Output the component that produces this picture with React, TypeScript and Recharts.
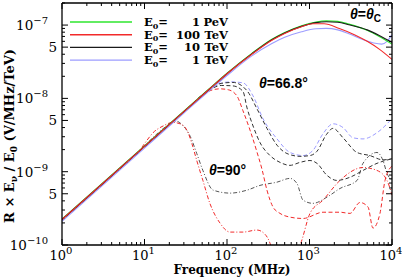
import { LineChart, Line, XAxis, YAxis, Legend } from 'recharts';

const energyValues = ['1', '100', '10', '1'];
const energyUnits = ['PeV', 'TeV', 'TeV', 'TeV'];
const energyNames = ['1 PeV', '100 TeV', '10 TeV', '1 TeV'];

// [frequency (MHz), R x E_nu / E_0 (V/MHz/TeV)]
// theta = theta_C (solid)
const cone1PeV = [[1, 2.25e-10], [10, 2.25e-9], [30, 6.7e-9], [60, 1.33e-8], [100, 2.2e-8], [200, 4.1e-8], [350, 6.4e-8], [500, 7.9e-8], [800, 9.8e-8], [1200, 1.1e-7], [1600, 1.14e-7], [2200, 1.12e-7], [3000, 1.03e-7], [5000, 8.5e-8], [7000, 7.0e-8], [10000, 5.5e-8]];
const cone100TeV = [[1, 2.22e-10], [10, 2.22e-9], [30, 6.6e-9], [60, 1.31e-8], [100, 2.17e-8], [200, 4.0e-8], [350, 6.2e-8], [500, 7.7e-8], [800, 9.5e-8], [1100, 1.04e-7], [1500, 1.04e-7], [2300, 9.0e-8], [3500, 7.4e-8], [5000, 6.0e-8], [7000, 4.7e-8], [10000, 3.4e-8]];
const cone10TeV = [[1, 2.22e-10], [10, 2.22e-9], [30, 6.6e-9], [60, 1.31e-8], [100, 2.17e-8], [200, 4.05e-8], [350, 6.3e-8], [500, 7.8e-8], [800, 9.6e-8], [1200, 1.08e-7], [1600, 1.11e-7], [2200, 1.09e-7], [3000, 1.01e-7], [5000, 8.6e-8], [7000, 7.2e-8], [8500, 6.4e-8], [10000, 5.8e-8]];
const cone1TeV = [[1, 2.1e-10], [10, 2.1e-9], [30, 6.3e-9], [60, 1.25e-8], [100, 2.05e-8], [200, 3.8e-8], [350, 5.6e-8], [500, 6.8e-8], [800, 8.1e-8], [1200, 8.9e-8], [1600, 9.0e-8], [2200, 8.6e-8], [3000, 7.6e-8], [4500, 6.3e-8], [6000, 5.7e-8], [7500, 5.5e-8], [8700, 6.0e-8], [10000, 7.4e-8]];

// theta = 66.8 deg (dashed)
const off100TeV = [[1, 2.2e-10], [10, 2.2e-9], [30, 6.6e-9], [47, 1.03e-8], [62, 1.27e-8], [82, 1.35e-8], [104, 1.31e-8], [132, 1.08e-8], [156, 6.8e-9], [190, 3.7e-9], [231, 1.85e-9], [266, 1.07e-9], [305, 5.6e-10], [361, 3.3e-10], [439, 2.7e-10], [580, 2.4e-10], [834, 2.3e-10], [1460, 2.8e-10], [2340, 2.8e-10], [3100, 2.7e-10], [4090, 3.8e-10], [5120, 3.3e-10], [5880, 1.7e-10], [7150, 2.7e-10], [8230, 7.6e-10], [10000, 1.2e-9]];
const off10TeVa = [[1, 2.2e-10], [10, 2.2e-9], [30, 6.6e-9], [60, 1.3e-8], [85, 1.6e-8], [118, 1.65e-8], [175, 1.27e-8], [231, 7.2e-9], [305, 3.9e-9], [404, 2.3e-9], [533, 1.77e-9], [767, 1.62e-9], [1014, 1.66e-9], [1233, 1.9e-9], [1600, 3.2e-9], [1930, 3.9e-9], [2550, 2.9e-9], [3765, 1.83e-9], [5400, 1.66e-9], [7780, 1.45e-9], [10000, 1.5e-9]];
const off10TeVb = [[1, 2.2e-10], [10, 2.2e-9], [30, 6.6e-9], [60, 1.28e-8], [85, 1.5e-8], [118, 1.48e-8], [156, 1.25e-8], [175, 7.4e-9], [207, 4.2e-9], [251, 2.5e-9], [332, 1.66e-9], [439, 1.34e-9], [580, 1.22e-9], [767, 1.34e-9], [1014, 1.42e-9], [1233, 1.3e-9], [1630, 8.9e-10], [2150, 7.6e-10], [3100, 8.4e-10], [4450, 1.04e-9], [6580, 1.3e-9], [10000, 1.5e-9]];
const off1TeV = [[1, 2.15e-10], [10, 2.15e-9], [30, 6.5e-9], [60, 1.3e-8], [80, 1.58e-8], [110, 1.68e-8], [156, 1.63e-8], [207, 1.08e-8], [273, 5.3e-9], [404, 2.8e-9], [580, 1.83e-9], [834, 1.66e-9], [1100, 1.95e-9], [1460, 3.3e-9], [1930, 4.5e-9], [2550, 4.0e-9], [3370, 2.9e-9], [4450, 2.8e-9], [6580, 3.4e-9], [10000, 5.3e-9]];

// theta = 90 deg (dash-dot)
const side100TeV = [[1, 2.2e-10], [5, 1.1e-9], [9, 2.05e-9], [10.5, 2.6e-9], [12.7, 3.4e-9], [16.8, 4.2e-9], [22, 4.7e-9], [27, 4.5e-9], [33, 3.6e-9], [37.6, 2.4e-9], [43, 1.42e-9], [51, 7.6e-10], [62, 3.7e-10], [82, 2.0e-10], [109, 1.5e-10], [156, 1.5e-10], [231, 1.6e-10], [289, 1.4e-10], [332, 1.06e-10], [370, 7e-11], [500, 4e-11], [705, 8.5e-11], [767, 1.0e-10], [1014, 2.7e-10], [1460, 4.1e-10], [2340, 7.6e-10], [4450, 1.14e-9], [6580, 1.04e-9], [8700, 7.6e-10], [10000, 4.8e-10]];
const side10TeV = [[1, 2.2e-10], [9, 2.0e-9], [13, 3.0e-9], [18, 4.1e-9], [24, 4.9e-9], [29, 4.3e-9], [36, 3.0e-9], [43, 1.77e-9], [51, 1.04e-9], [68, 5.6e-10], [109, 5.1e-10], [175, 5.6e-10], [251, 6.5e-10], [404, 7.2e-10], [580, 8.1e-10], [705, 6.9e-10], [834, 4.1e-10], [1100, 3.7e-10], [1630, 4.5e-10], [2340, 5.9e-10], [3770, 7.6e-10], [4450, 1.3e-9], [6580, 1.83e-9], [7780, 1.42e-9], [8700, 9.5e-10], [10000, 7.6e-10]];

const xDecades = [1, 10, 100, 1000];
const yDecades = [1e-10, 1e-9, 1e-8];
const mults = [1, 2, 3, 4, 5, 6, 7, 8, 9];
const xTicks = [...xDecades.flatMap(d => mults.map(m => m * d)), 10000];
const yTicks = [...yDecades.flatMap(d => mults.map(m => m * d)), 1e-7, 2e-7];

const GREEN = '#2ee62e';
const RED = '#f22a2a';
const BLACK = '#1a1a1a';
const BLUE = '#9c9cff';
const DASH = '4 2.5';
const DASHDOT = '4 2 1 2';
const TICKFONT = 'DejaVu Serif';

const pts = (arr: number[][]) => arr.map(([f, v]) => ({ f, v }));

const expOf = (v: number) => Math.round(Math.log10(v));
const isDecade = (v: number) => Math.abs(Math.log10(v) - expOf(v)) < 1e-6;
const isFive = (v: number) => {
    const e = Math.floor(Math.log10(v) + 1e-9);
    return Math.abs(v / Math.pow(10, e) - 5) < 1e-6;
};
const sup = (n: number) => (n < 0 ? '\u2212' + Math.abs(n) : String(n));

const BottomTick = ({ x, y, payload }: any) => {
    const major = isDecade(payload.value);
    return (
        <g>
            <line x1={x} x2={x} y1={y} y2={y - (major ? 6 : 3)} stroke="#000" strokeWidth={1} />
            {major && (
                <text x={x - 1} y={y + 15} textAnchor="middle" fontFamily={TICKFONT} fontSize={13} fill="#000">
                    10<tspan dy={-6} fontSize={10}>{sup(expOf(payload.value))}</tspan>
                </text>
            )}
        </g>
    );
};

const TopTick = ({ x, y, payload }: any) => {
    const major = isDecade(payload.value);
    return <line x1={x} x2={x} y1={y} y2={y + (major ? 6 : 3)} stroke="#000" strokeWidth={1} />;
};

const LeftTick = ({ x, y, payload }: any) => {
    const v = payload.value;
    const major = isDecade(v) || isFive(v);
    return (
        <g>
            <line x1={x} x2={x + (major ? 6 : 3)} y1={y} y2={y} stroke="#000" strokeWidth={1} />
            {isDecade(v) && (
                <text x={48} y={y + 5} textAnchor="end" fontFamily={TICKFONT} fontSize={13.5} fill="#000">
                    10<tspan dy={-6} fontSize={10}>{sup(expOf(v))}</tspan>
                </text>
            )}
            {isFive(v) && (
                <text x={57} y={y + 5} textAnchor="end" fontFamily={TICKFONT} fontSize={13.5} fill="#000">5</text>
            )}
        </g>
    );
};

const RightTick = ({ x, y, payload }: any) => {
    const v = payload.value;
    const major = isDecade(v) || isFive(v);
    return <line x1={x} x2={x - (major ? 6 : 3)} y1={y} y2={y} stroke="#000" strokeWidth={1} />;
};

const renderLegend = (props: any) => {
    const items = (props.payload || [])
        .filter((p: any) => energyNames.includes(p.value))
        .sort((a: any, b: any) => energyNames.indexOf(a.value) - energyNames.indexOf(b.value));
    return (
        <svg width={402} height={80}>
            {items.map((p: any, i: number) => {
                const k = energyNames.indexOf(p.value);
                const y = 22 + i * 12.7;
                return (
                    <g key={p.value} fontFamily={TICKFONT} fontWeight="bold" fontSize={11.5} fill="#000">
                        <line x1={70} x2={132} y1={y} y2={y} stroke={p.color} strokeWidth={1.4} />
                        <text x={144} y={y + 4}>
                            E<tspan dy={2.5} fontSize={8}>0</tspan><tspan dy={-2.5}>=</tspan>
                        </text>
                        <text x={200} y={y + 4} textAnchor="end">{energyValues[k]}</text>
                        <text x={228} y={y + 4} textAnchor="end">{energyUnits[k]}</text>
                    </g>
                );
            })}
        </svg>
    );
};

const lineProps = { dataKey: 'v', dot: false, activeDot: false, isAnimationActive: false, type: 'monotone' as const };

export default function App() {
    return (
        <div style={{ position: 'absolute', left: 0, top: 0, width: 402, height: 277, background: '#fff' }}>
            <LineChart width={402} height={277} margin={{ top: 2, right: 0, bottom: 0, left: 0 }}>
                <XAxis dataKey="f" type="number" scale="log" domain={[1, 10000]} allowDataOverflow
                    ticks={xTicks} interval={0} tickSize={0} tickMargin={0} tickLine={false}
                    height={32} axisLine={{ stroke: '#000', strokeWidth: 1.3 }} tick={<BottomTick />} />
                <XAxis xAxisId="top" orientation="top" dataKey="f" type="number" scale="log" domain={[1, 10000]} allowDataOverflow
                    ticks={xTicks} interval={0} tickSize={0} tickMargin={0} tickLine={false}
                    height={1} axisLine={{ stroke: '#000', strokeWidth: 1.3 }} tick={<TopTick />} />
                <YAxis type="number" scale="log" domain={[1e-10, 2e-7]} allowDataOverflow
                    ticks={yTicks} interval={0} tickSize={0} tickMargin={0} tickLine={false}
                    width={62} axisLine={{ stroke: '#000', strokeWidth: 1.3 }} tick={<LeftTick />} />
                <YAxis yAxisId="right" orientation="right" type="number" scale="log" domain={[1e-10, 2e-7]} allowDataOverflow
                    ticks={yTicks} interval={0} tickSize={0} tickMargin={0} tickLine={false}
                    width={10} axisLine={{ stroke: '#000', strokeWidth: 1.3 }} tick={<RightTick />} />

                <Line {...lineProps} data={pts(side10TeV)} stroke="#555" strokeWidth={1} strokeDasharray={DASHDOT} legendType="none" />
                <Line {...lineProps} data={pts(side100TeV)} stroke={RED} strokeWidth={1} strokeDasharray={DASHDOT} legendType="none" />
                <Line {...lineProps} data={pts(off1TeV)} stroke={BLUE} strokeWidth={1} strokeDasharray={DASH} legendType="none" />
                <Line {...lineProps} data={pts(off10TeVa)} stroke="#333" strokeWidth={1} strokeDasharray={DASH} legendType="none" />
                <Line {...lineProps} data={pts(off10TeVb)} stroke="#333" strokeWidth={1} strokeDasharray={DASH} legendType="none" />
                <Line {...lineProps} data={pts(off100TeV)} stroke={RED} strokeWidth={1} strokeDasharray={DASH} legendType="none" />

                <Line {...lineProps} name="1 TeV" data={pts(cone1TeV)} stroke={BLUE} strokeWidth={1.1} />
                <Line {...lineProps} name="1 PeV" data={pts(cone1PeV)} stroke={GREEN} strokeWidth={1.2} />
                <Line {...lineProps} name="10 TeV" data={pts(cone10TeV)} stroke={BLACK} strokeWidth={1.1} />
                <Line {...lineProps} name="100 TeV" data={pts(cone100TeV)} stroke={RED} strokeWidth={1.1} />

                <Legend layout="vertical" align="center" verticalAlign="middle" content={renderLegend}
                    wrapperStyle={{ left: 0, top: 0, width: 402, height: 80, pointerEvents: 'none' }} />
            </LineChart>
            <svg width={402} height={277} style={{ position: 'absolute', left: 0, top: 0, pointerEvents: 'none' }}>
                <g fontFamily="Liberation Sans" fontWeight="bold" fontSize={14} fill="#000">
                    <text x={350} y={19}>
                        <tspan fontStyle="italic">θ</tspan>=<tspan fontStyle="italic">θ</tspan><tspan dy={3} fontSize={10}>C</tspan>
                    </text>
                    <text x={259} y={88}>
                        <tspan fontStyle="italic">θ</tspan>=66.8°
                    </text>
                    <text x={209} y={175}>
                        <tspan fontStyle="italic">θ</tspan>=90°
                    </text>
                </g>
                <text x={232} y={274} textAnchor="middle" fontFamily={TICKFONT} fontWeight="bold" fontSize={12} fill="#000">
                    Frequency (MHz)
                </text>
                <text transform="translate(14,136) rotate(-90)" textAnchor="middle" fontFamily={TICKFONT} fontWeight="bold" fontSize={13} fill="#000">
                    R × E<tspan dy={3} fontSize={9}>ν</tspan><tspan dy={-3}> / E</tspan><tspan dy={3} fontSize={9}>0</tspan><tspan dy={-3}> (V/MHz/TeV)</tspan>
                </text>
            </svg>
        </div>
    );
}
